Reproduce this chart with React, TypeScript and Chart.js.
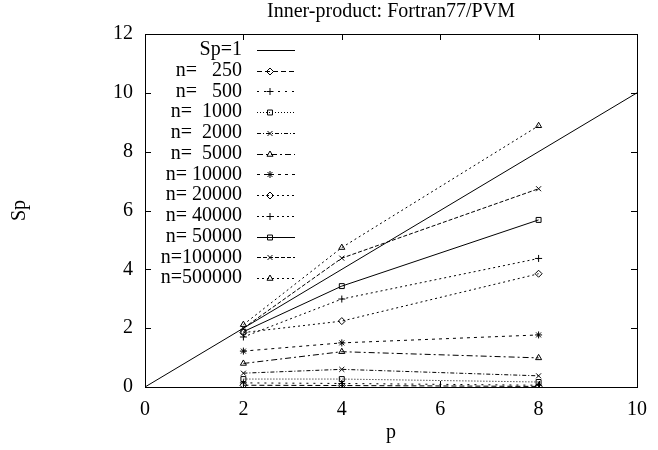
import React, { useEffect, useRef } from "react";
import { Chart, registerables } from "chart.js";
import { drawPoint } from "chart.js/helpers";

Chart.register(...registerables);

const FONT = "'Liberation Serif', 'Times New Roman', serif";

// ---- data ----
const titleText = "Inner-product: Fortran77/PVM";
const xAxisTitle = "p";
const yAxisTitle = "Sp";

const procs = [2, 4, 8];
const idealProcs = [0, 10];
const idealSpeedup = [0, 10];

const sp250 = [0.06, 0.05, 0.02];
const sp500 = [0.14, 0.12, 0.06];
const sp1000 = [0.27, 0.27, 0.17];
const sp2000 = [0.47, 0.6, 0.38];
const sp5000 = [0.8, 1.2, 0.99];
const sp10000 = [1.22, 1.5, 1.77];
const sp20000 = [1.85, 2.24, 3.85];
const sp40000 = [1.7, 2.99, 4.37];
const sp50000 = [1.88, 3.43, 5.68];
const sp100000 = [2.0, 4.38, 6.74];
const sp500000 = [2.12, 4.74, 8.88];

const seriesLabels = [
  "Sp=1",
  "n=   250",
  "n=   500",
  "n=  1000",
  "n=  2000",
  "n=  5000",
  "n= 10000",
  "n= 20000",
  "n= 40000",
  "n= 50000",
  "n=100000",
  "n=500000",
];

const xTickStep = 2;
const yTickStep = 2;
const xMin = 0, xMax = 10, yMin = 0, yMax = 12;

// ---- styles ----
const seriesValues = [sp250, sp500, sp1000, sp2000, sp5000, sp10000, sp20000, sp40000, sp50000, sp100000, sp500000];
const seriesDashes = [
  [5, 3],
  [2, 5],
  [1, 2],
  [4, 2, 1, 2],
  [6, 3, 2, 3],
  [3, 4],
  [2, 3],
  [2, 3],
  [],
  [4, 2],
  [2, 3],
];
const seriesPoints = [
  "rectRot", "cross", "rect", "crossRot", "triangle", "star",
  "rectRot", "cross", "rect", "crossRot", "triangle",
];

const framePlugin = {
  id: "gnuFrame",
  afterDraw(chart: any) {
    const { ctx, chartArea: a } = chart;
    const xs = chart.scales.x;
    const ys = chart.scales.y;
    ctx.save();
    ctx.strokeStyle = "#000";
    ctx.lineWidth = 1;
    ctx.setLineDash([]);
    ctx.strokeRect(a.left + 0.5, a.top + 0.5, a.right - a.left, a.bottom - a.top);
    const tl = 6;
    ctx.beginPath();
    xs.ticks.forEach((t: any) => {
      const px = Math.round(xs.getPixelForValue(t.value)) + 0.5;
      ctx.moveTo(px, a.bottom);
      ctx.lineTo(px, a.bottom - tl);
      ctx.moveTo(px, a.top);
      ctx.lineTo(px, a.top + tl);
    });
    ys.ticks.forEach((t: any) => {
      const py = Math.round(ys.getPixelForValue(t.value)) + 0.5;
      ctx.moveTo(a.left, py);
      ctx.lineTo(a.left + tl, py);
      ctx.moveTo(a.right, py);
      ctx.lineTo(a.right - tl, py);
    });
    ctx.stroke();

    // titles
    ctx.fillStyle = "#000";
    ctx.font = `20px ${FONT}`;
    ctx.textAlign = "center";
    ctx.textBaseline = "middle";
    ctx.fillText(titleText, (a.left + a.right) / 2, 12);
    ctx.fillText(xAxisTitle, (a.left + a.right) / 2, 433);
    ctx.save();
    ctx.translate(20, (a.top + a.bottom) / 2);
    ctx.rotate(-Math.PI / 2);
    ctx.fillText(yAxisTitle, 0, 0);
    ctx.restore();

    // legend
    ctx.font = `20px ${FONT}`;
    ctx.textAlign = "right";
    ctx.textBaseline = "middle";
    chart.data.datasets.forEach((ds: any, i: number) => {
      const y = a.top + 16 + i * 20.73;
      ctx.fillStyle = "#000";
      ctx.fillText(ds.label, a.left + 97, y);
      ctx.beginPath();
      ctx.setLineDash(ds.borderDash || []);
      ctx.strokeStyle = "#000";
      ctx.lineWidth = 1;
      ctx.moveTo(a.left + 112, Math.round(y) + 0.5);
      ctx.lineTo(a.left + 150, Math.round(y) + 0.5);
      ctx.stroke();
      ctx.setLineDash([]);
      if (ds.pointRadius > 0) {
        ctx.fillStyle = "rgba(0,0,0,0)";
        drawPoint(ctx, { pointStyle: ds.pointStyle, radius: 3.5, borderWidth: 1, rotation: 0 } as any, a.left + 125, Math.round(y) + 0.5);
      }
    });
    ctx.restore();
  },
};

export default function App() {
  const ref = useRef<HTMLCanvasElement | null>(null);
  useEffect(() => {
    if (!ref.current) return;
    const datasets: any[] = [
      {
        label: seriesLabels[0],
        data: idealProcs.map((x, i) => ({ x, y: idealSpeedup[i] })),
        borderColor: "#000",
        borderWidth: 1,
        pointRadius: 0,
        borderDash: [],
      },
      ...seriesValues.map((vals, k) => ({
        label: seriesLabels[k + 1],
        data: procs.map((x, i) => ({ x, y: vals[i] })),
        borderColor: "#000",
        borderWidth: 1,
        borderDash: seriesDashes[k],
        pointStyle: seriesPoints[k],
        pointRadius: 3.5,
        pointBorderWidth: 1,
        pointBorderColor: "#000",
        pointBackgroundColor: "rgba(0,0,0,0)",
      })),
    ];
    const chart = new Chart(ref.current, {
      type: "line",
      data: { datasets },
      options: {
        responsive: false,
        animation: false,
        layout: { padding: { top: 34, right: 19, left: 0, bottom: 0 } },
        plugins: {
          legend: { display: false },
          title: { display: false },
          tooltip: { enabled: false },
        },
        scales: {
          x: {
            type: "linear",
            min: xMin,
            max: xMax,
            afterFit: (s: any) => { s.height = 63; },
            grid: { display: false, drawTicks: false },
            border: { display: false },
            ticks: { stepSize: xTickStep, padding: 11, color: "#000", font: { family: FONT, size: 20 } },
          },
          y: {
            type: "linear",
            min: yMin,
            max: yMax,
            afterFit: (s: any) => { s.width = 145; },
            grid: { display: false, drawTicks: false },
            border: { display: false },
            ticks: { stepSize: yTickStep, padding: 12, color: "#000", font: { family: FONT, size: 20 } },
          },
        },
      } as any,
      plugins: [framePlugin],
    });
    return () => chart.destroy();
  }, []);
  return (
    <div style={{ position: "fixed", left: 0, top: 0, width: 658, height: 450, background: "#fff" }}>
      <canvas ref={ref} width={658} height={450} />
    </div>
  );
}
